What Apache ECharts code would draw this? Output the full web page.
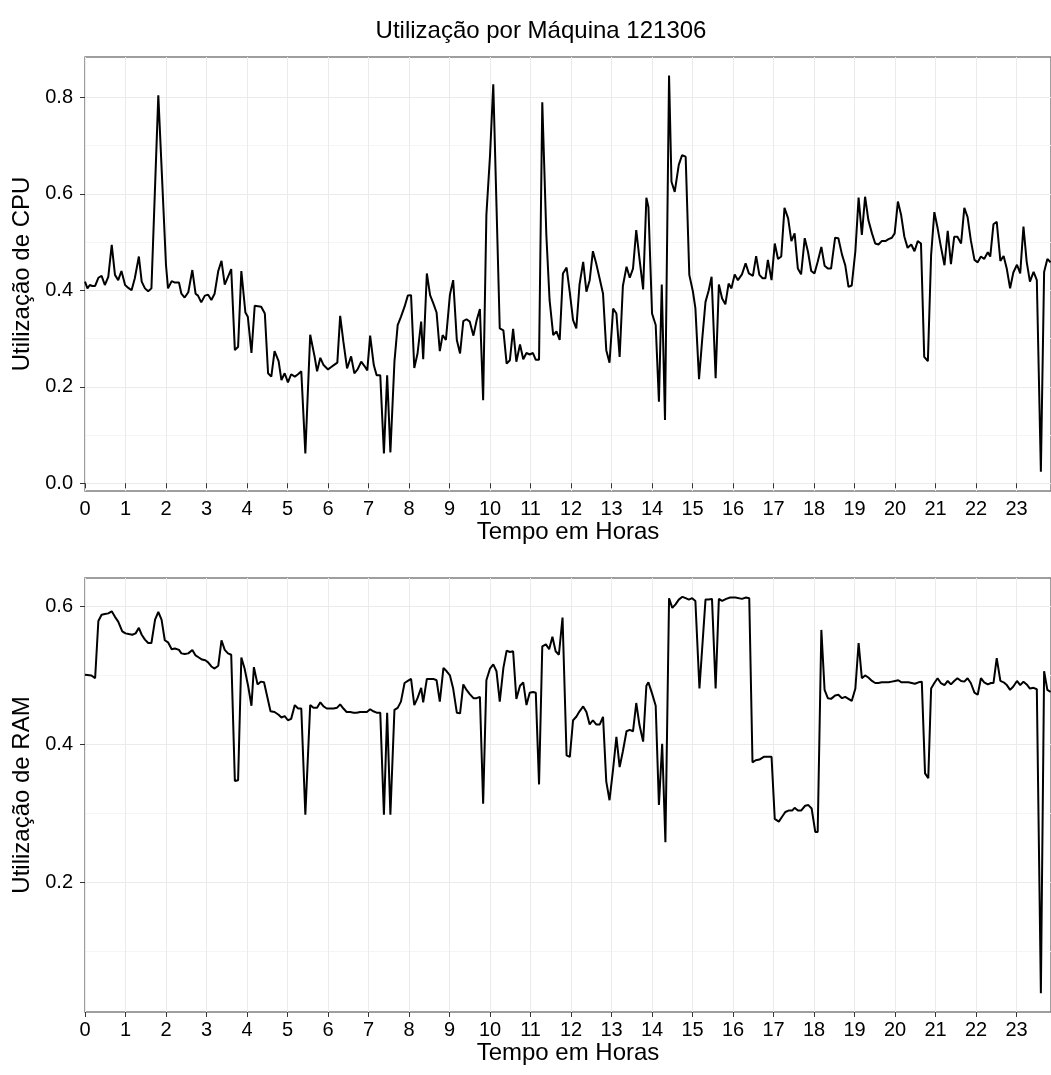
<!DOCTYPE html>
<html><head><meta charset="utf-8">
<script src="https://cdn.jsdelivr.net/npm/echarts@6/dist/echarts.min.js"></script>
<style>html,body{margin:0;padding:0;background:#fff}#c{width:1051px;height:1075px}</style>
</head><body><div id="c"></div>
<script>
const titleText = 'Utilização por Máquina 121306';
const xTitle = 'Tempo em Horas';
const cpuTitle = 'Utilização de CPU';
const ramTitle = 'Utilização de RAM';
const hourTicks = [0,1,2,3,4,5,6,7,8,9,10,11,12,13,14,15,16,17,18,19,20,21,22,23];
const cpuTicks = [0, 0.2, 0.4, 0.6, 0.8];
const cpuMinor = [0.1, 0.3, 0.5, 0.7];
const ramTicks = [0.2, 0.4, 0.6];
const ramMinor = [0.1, 0.3, 0.5];

const cpuHours = [0,0.06,0.12,0.18,0.25,0.33,0.41,0.49,0.575,0.66,0.74,0.82,0.90,0.99,1.07,1.15,1.23,1.33,1.40,1.48,1.56,1.64,1.81,2.00,2.05,2.14,2.22,2.32,2.38,2.46,2.55,2.65,2.73,2.79,2.87,2.96,3.04,3.12,3.20,3.29,3.37,3.45,3.53,3.61,3.70,3.78,3.86,3.96,4.02,4.11,4.19,4.35,4.44,4.52,4.60,4.68,4.78,
4.85,4.93,5.01,5.09,5.18,5.26,5.34,5.44,5.56,5.67,5.73,5.81,5.89,6.00,6.08,6.16,6.23,6.30,6.38,6.47,6.57,6.65,6.73,6.82,6.90,6.97,7.04,7.13,7.20,7.29,7.38,7.46,7.54,7.64,7.72,7.80,7.89,7.97,8.05,8.13,8.21,8.30,8.35,8.44,8.52,8.60,8.68,8.76,8.83,8.91,9.01,9.09,9.18,9.26,9.34,9.42,9.50,
9.59,9.67,9.75,9.83,9.91,10.00,10.08,10.16,10.24,10.33,10.41,10.49,10.57,10.65,10.74,10.82,10.90,10.98,11.06,11.13,11.21,11.29,11.39,11.47,11.56,11.64,11.72,11.80,11.89,11.97,12.05,12.13,12.21,12.30,12.38,12.46,12.54,12.62,12.71,12.79,12.87,12.95,13.04,13.12,13.20,13.28,13.37,13.45,13.53,13.61,13.69,13.78,13.86,13.91,14.00,14.09,14.17,
14.24,14.32,14.42,14.48,14.56,14.66,14.74,14.83,14.92,15.01,15.07,15.16,15.24,15.32,15.40,15.47,15.57,15.65,15.73,15.81,15.89,15.96,16.04,16.12,16.22,16.31,16.39,16.49,16.57,16.65,16.73,16.80,16.86,16.95,17.03,17.11,17.19,17.27,17.36,17.44,17.52,17.60,17.68,17.77,17.85,17.93,18.01,18.09,18.18,18.26,18.34,18.42,18.52,18.60,18.69,18.77,18.85,
18.93,19.02,19.10,19.18,19.26,19.34,19.43,19.51,19.59,19.67,19.76,19.84,19.92,19.99,20.07,20.15,20.23,20.31,20.40,20.48,20.56,20.64,20.72,20.81,20.89,20.97,21.05,21.13,21.22,21.30,21.38,21.46,21.54,21.63,21.71,21.79,21.87,21.96,22.04,22.12,22.20,22.29,22.35,22.43,22.51,22.60,22.68,22.76,22.84,22.92,23.01,23.09,23.17,23.25,23.33,23.42,23.50,23.60,23.68,23.76,23.84];
const cpuValues = [0.418,0.404,0.411,0.409,0.409,0.426,0.430,0.411,0.428,0.494,0.432,0.421,0.440,0.411,0.405,0.400,0.425,0.470,0.418,0.404,0.398,0.404,0.804,0.452,0.404,0.419,0.416,0.416,0.393,0.385,0.396,0.442,0.393,0.389,0.375,0.389,0.391,0.380,0.393,0.440,0.461,0.412,0.428,0.444,0.276,0.283,0.440,0.354,0.345,0.270,0.368,0.366,0.352,0.228,0.221,0.274,0.253,
0.214,0.228,0.209,0.226,0.221,0.226,0.232,0.062,0.308,0.262,0.232,0.260,0.245,0.236,0.241,0.246,0.250,0.347,0.293,0.238,0.263,0.228,0.236,0.252,0.243,0.234,0.306,0.245,0.224,0.224,0.062,0.224,0.064,0.252,0.328,0.345,0.366,0.389,0.390,0.239,0.269,0.335,0.257,0.435,0.390,0.373,0.354,0.274,0.307,0.297,0.391,0.421,0.297,0.269,0.336,0.340,0.335,
0.306,0.338,0.361,0.172,0.556,0.680,0.827,0.574,0.321,0.317,0.248,0.255,0.320,0.252,0.288,0.257,0.270,0.267,0.270,0.256,0.256,0.790,0.515,0.380,0.307,0.315,0.297,0.435,0.447,0.395,0.338,0.321,0.412,0.459,0.397,0.421,0.481,0.456,0.423,0.393,0.276,0.250,0.362,0.352,0.262,0.409,0.449,0.426,0.445,0.525,0.465,0.402,0.592,0.573,0.352,0.328,0.169,
0.412,0.131,0.845,0.625,0.604,0.660,0.680,0.677,0.432,0.397,0.363,0.216,0.300,0.376,0.400,0.428,0.218,0.412,0.383,0.371,0.414,0.404,0.433,0.421,0.433,0.456,0.435,0.430,0.471,0.432,0.425,0.425,0.463,0.421,0.497,0.465,0.470,0.571,0.549,0.502,0.518,0.445,0.433,0.508,0.480,0.440,0.435,0.459,0.490,0.451,0.445,0.445,0.509,0.508,0.474,0.452,0.407,
0.410,0.481,0.592,0.515,0.594,0.546,0.518,0.497,0.495,0.502,0.502,0.506,0.509,0.518,0.584,0.556,0.511,0.488,0.495,0.481,0.502,0.497,0.262,0.253,0.473,0.562,0.529,0.491,0.452,0.523,0.454,0.511,0.511,0.497,0.571,0.552,0.504,0.463,0.458,0.470,0.465,0.479,0.470,0.537,0.542,0.461,0.471,0.444,0.404,0.437,0.453,0.435,0.532,0.459,0.418,0.438,0.421,0.024,0.438,0.465,0.458];

const ramHours = [0,0.16,0.25,0.33,0.41,0.49,0.575,0.66,0.74,0.82,0.92,1.00,1.08,1.17,1.25,1.33,1.40,1.48,1.56,1.64,1.73,1.81,1.89,1.97,2.05,2.14,2.22,2.32,2.38,2.46,2.55,2.65,2.73,2.81,2.89,2.97,3.04,3.12,3.20,3.29,3.37,3.45,3.53,3.61,3.70,3.78,3.86,3.94,4.03,4.11,4.17,4.26,4.34,4.42,4.50,4.58,4.68,4.78,
4.85,4.93,5.01,5.09,5.18,5.26,5.34,5.44,5.56,5.64,5.73,5.81,5.89,5.97,6.05,6.14,6.22,6.30,6.38,6.46,6.55,6.63,6.71,6.79,6.88,6.96,7.04,7.12,7.20,7.29,7.38,7.46,7.54,7.64,7.72,7.80,7.89,7.97,8.05,8.13,8.21,8.30,8.35,8.44,8.52,8.60,8.68,8.76,8.85,8.93,9.01,9.09,9.18,9.26,9.34,9.42,9.50,
9.59,9.67,9.75,9.83,9.91,10.00,10.08,10.16,10.24,10.33,10.41,10.49,10.57,10.65,10.74,10.82,10.90,10.98,11.06,11.13,11.21,11.29,11.38,11.46,11.54,11.62,11.70,11.79,11.89,11.97,12.05,12.13,12.21,12.30,12.38,12.46,12.54,12.62,12.71,12.79,12.87,12.95,13.04,13.12,13.20,13.28,13.37,13.45,13.53,13.61,13.69,13.78,13.86,13.91,14.00,14.09,14.17,
14.25,14.33,14.42,14.50,14.58,14.66,14.75,14.83,14.91,14.99,15.07,15.17,15.32,15.40,15.48,15.57,15.65,15.73,15.83,15.93,16.06,16.22,16.32,16.40,16.48,16.56,16.65,16.76,16.84,16.95,17.03,17.13,17.21,17.29,17.37,17.46,17.52,17.60,17.68,17.78,17.86,17.94,18.03,18.09,18.18,18.26,18.34,18.42,18.52,18.60,18.69,18.77,18.85,
18.93,19.02,19.10,19.18,19.26,19.34,19.43,19.51,19.59,19.67,19.76,19.84,19.92,20.00,20.08,20.16,20.25,20.33,20.41,20.49,20.58,20.66,20.74,20.82,20.89,20.97,21.05,21.13,21.22,21.30,21.38,21.46,21.54,21.63,21.71,21.79,21.87,21.96,22.04,22.12,22.20,22.29,22.37,22.43,22.51,22.60,22.68,22.76,22.84,22.92,23.01,23.09,23.17,23.25,23.33,23.42,23.50,23.60,23.68,23.76,23.84];
const ramValues = [0.501,0.500,0.496,0.579,0.588,0.589,0.590,0.593,0.585,0.578,0.564,0.561,0.560,0.559,0.561,0.569,0.559,0.552,0.547,0.547,0.581,0.592,0.581,0.551,0.548,0.538,0.539,0.537,0.532,0.531,0.532,0.537,0.529,0.526,0.523,0.522,0.519,0.513,0.510,0.514,0.551,0.537,0.532,0.530,0.347,0.348,0.526,0.510,0.484,0.456,0.512,0.487,0.491,0.490,0.469,0.448,0.447,0.443,
0.439,0.441,0.435,0.437,0.457,0.452,0.452,0.298,0.457,0.453,0.453,0.461,0.455,0.452,0.452,0.452,0.453,0.458,0.452,0.447,0.447,0.446,0.446,0.447,0.447,0.447,0.451,0.448,0.446,0.446,0.298,0.446,0.298,0.450,0.453,0.462,0.489,0.492,0.495,0.457,0.467,0.482,0.461,0.495,0.495,0.495,0.493,0.462,0.511,0.506,0.500,0.481,0.446,0.445,0.487,0.479,0.473,
0.467,0.467,0.469,0.314,0.493,0.510,0.516,0.506,0.462,0.511,0.536,0.534,0.535,0.466,0.485,0.490,0.457,0.475,0.476,0.475,0.342,0.542,0.545,0.538,0.556,0.535,0.530,0.584,0.384,0.382,0.435,0.440,0.448,0.455,0.447,0.429,0.435,0.429,0.429,0.440,0.346,0.319,0.365,0.411,0.367,0.390,0.419,0.421,0.419,0.460,0.428,0.404,0.485,0.490,0.474,0.456,0.312,
0.401,0.258,0.612,0.598,0.603,0.610,0.614,0.612,0.610,0.612,0.608,0.481,0.610,0.610,0.611,0.481,0.611,0.608,0.611,0.613,0.613,0.611,0.613,0.612,0.374,0.377,0.378,0.382,0.382,0.382,0.292,0.288,0.295,0.302,0.304,0.304,0.308,0.304,0.304,0.311,0.312,0.307,0.273,0.273,0.566,0.479,0.467,0.466,0.471,0.472,0.467,0.469,0.466,
0.463,0.481,0.547,0.496,0.500,0.497,0.492,0.489,0.489,0.490,0.490,0.490,0.491,0.492,0.493,0.490,0.490,0.490,0.489,0.488,0.490,0.491,0.358,0.351,0.481,0.489,0.496,0.489,0.486,0.492,0.487,0.492,0.496,0.492,0.491,0.496,0.489,0.475,0.472,0.496,0.490,0.487,0.489,0.489,0.525,0.492,0.490,0.486,0.479,0.484,0.492,0.486,0.491,0.487,0.481,0.482,0.480,0.039,0.506,0.479,0.476];

const FONT = '"Liberation Sans", Arial, Helvetica, sans-serif';
const pair = (h, v) => h.map((x, i) => [x, v[i]]);

function xAxisFor(gi) {
  return {
    type: 'value', gridIndex: gi, min: 0, max: 23.85,
    name: xTitle, nameLocation: 'middle', nameGap: 23,
    nameTextStyle: {fontFamily: FONT, fontSize: 24, color: '#000'},
    axisLine: {show: false},
    axisTick: {show: true, length: 5, customValues: hourTicks, lineStyle: {color: '#333', width: 1}},
    axisLabel: {show: true, customValues: hourTicks, margin: 8, fontFamily: FONT, fontSize: 20, color: '#000', formatter: v => String(v)},
    splitLine: {show: true, lineStyle: {color: '#ebebeb', width: 1}}
  };
}
function yAxisFor(gi, min, max, ticks, title) {
  return {
    type: 'value', gridIndex: gi, min: min, max: max, position: 'left',
    name: title, nameLocation: 'middle', nameGap: 50,
    nameTextStyle: {fontFamily: FONT, fontSize: 24, color: '#000'},
    axisLine: {show: false},
    axisTick: {show: true, length: 5, customValues: ticks, lineStyle: {color: '#333', width: 1}},
    axisLabel: {show: true, customValues: ticks, margin: 12, fontFamily: FONT, fontSize: 20, color: '#000', formatter: v => v.toFixed(1)},
    splitLine: {show: true, lineStyle: {color: '#ebebeb', width: 1}}
  };
}
function yMinorFor(gi, min, max, ticks) {
  return {
    type: 'value', gridIndex: gi, min: min, max: max, position: 'right',
    axisLine: {show: false},
    axisTick: {show: false, customValues: ticks},
    axisLabel: {show: false, customValues: ticks},
    splitLine: {show: true, lineStyle: {color: '#f5f5f5', width: 1}}
  };
}

const chart = echarts.init(document.getElementById('c'), null, {renderer: 'canvas'});
chart.setOption({
  animation: false,
  backgroundColor: '#fff',
  graphic: [{
    type: 'text', x: 541, y: 31,
    style: {text: titleText, font: '24px ' + FONT, fill: '#000', textAlign: 'center', textVerticalAlign: 'middle'}
  }],
  grid: [
    {left: 85, width: 968, top: 57, height: 434, show: true, borderColor: '#7f7f7f', borderWidth: 1.5, backgroundColor: 'transparent'},
    {left: 85, width: 968, top: 578, height: 434, show: true, borderColor: '#7f7f7f', borderWidth: 1.5, backgroundColor: 'transparent'}
  ],
  xAxis: [xAxisFor(0), xAxisFor(1)],
  yAxis: [
    yAxisFor(0, -0.016, 0.8836, cpuTicks, cpuTitle),
    yAxisFor(1, 0.0119, 0.6413, ramTicks, ramTitle),
    yMinorFor(0, -0.016, 0.8836, cpuMinor),
    yMinorFor(1, 0.0119, 0.6413, ramMinor)
  ],
  series: [
    {type: 'line', xAxisIndex: 0, yAxisIndex: 0, data: pair(cpuHours, cpuValues), showSymbol: false, symbol: 'none',
     lineStyle: {color: '#000', width: 2}, clip: true, z: 5},
    {type: 'line', xAxisIndex: 1, yAxisIndex: 1, data: pair(ramHours, ramValues), showSymbol: false, symbol: 'none',
     lineStyle: {color: '#000', width: 2}, clip: true, z: 5}
  ]
});
</script>
</body></html>
